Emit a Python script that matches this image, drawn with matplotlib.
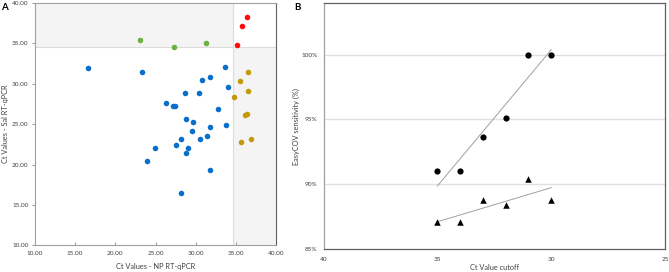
import numpy as np
import matplotlib
matplotlib.use("Agg")
import matplotlib.pyplot as plt
from matplotlib.patches import Rectangle

plt.rcParams['font.family'] = ['Lato', 'DejaVu Sans']

# Panel A data: Ct values (NP, Sal)
blue_np = [16.6, 23.3, 33.6, 30.8, 31.8, 34.0, 28.7, 30.4, 26.3, 27.2, 27.4, 32.8, 28.8,
           29.6, 29.5, 31.8, 33.7, 28.2, 30.5, 31.4, 24.9, 27.5, 29.0, 28.8, 24.0, 31.8, 28.2]
blue_sal = [31.9, 31.5, 32.1, 30.5, 30.8, 29.6, 28.9, 28.8, 27.6, 27.3, 27.3, 26.9, 25.6,
            25.3, 24.1, 24.7, 24.9, 23.2, 23.1, 23.5, 22.0, 22.4, 22.0, 21.4, 20.4, 19.3, 16.5]
gold_np = [36.5, 35.5, 36.5, 34.8, 36.1, 36.3, 35.6, 36.9]
gold_sal = [31.4, 30.4, 29.1, 28.3, 26.1, 26.2, 22.8, 23.1]
red_np = [36.3, 35.7, 35.1]
red_sal = [38.3, 37.2, 34.8]
green_np = [23.1, 27.3, 31.3]
green_sal = [35.4, 34.6, 35.1]
cutoff_np = 34.6
cutoff_sal = 34.5

# Panel B data: sensitivity vs Ct cutoff
cutoffs = [35, 34, 33, 32, 31, 30]
sens_circle = [91.0, 91.0, 93.6, 95.1, 100.0, 100.0]
sens_triangle = [87.05, 87.05, 88.8, 88.4, 90.4, 88.8]

fig = plt.figure(figsize=(6.69, 2.72), dpi=100)
W, H = 669, 272

def add_ax(l, t, r, b):
    return fig.add_axes([l / W, 1 - b / H, (r - l) / W, (b - t) / H])

tick_fs = 4.6
lab_fs = 5.3
txt = '#404040'

# ---- Panel A ----
axa = add_ax(34.7, 3, 276.3, 245.3)
axa.set_xlim(10, 40)
axa.set_ylim(10, 40)
shade = '#f4f4f4'
axa.add_patch(Rectangle((10, cutoff_sal), cutoff_np - 10, 40 - cutoff_sal,
                        facecolor=shade, edgecolor='none', zorder=0))
axa.add_patch(Rectangle((cutoff_np, 10), 40 - cutoff_np, cutoff_sal - 10,
                        facecolor=shade, edgecolor='none', zorder=0))
axa.axhline(cutoff_sal, color='#dcdcdc', lw=0.8, zorder=1)
axa.axvline(cutoff_np, color='#dcdcdc', lw=0.8, zorder=1)
ms = 16
axa.scatter(blue_np, blue_sal, s=ms, color='#0A6FCB', zorder=3, linewidths=0)
axa.scatter(gold_np, gold_sal, s=ms, color='#C39A08', zorder=3, linewidths=0)
axa.scatter(red_np, red_sal, s=ms, color='#FF0A0A', zorder=3, linewidths=0)
axa.scatter(green_np, green_sal, s=ms, color='#6DB043', zorder=3, linewidths=0)
ticks = np.arange(10, 41, 5)
axa.set_xticks(ticks)
axa.set_yticks(ticks)
axa.set_xticklabels([f'{v:.2f}' for v in ticks])
axa.set_yticklabels([f'{v:.2f}' for v in ticks])
axa.tick_params(labelsize=tick_fs, length=2, width=0.6, color='#888888', labelcolor=txt)
axa.tick_params(axis='x', direction='in', pad=4.2)
axa.tick_params(axis='y', pad=2.5)
for side in ['left', 'bottom', 'top']:
    axa.spines[side].set_color('#a0a0a0')
axa.spines['right'].set_color('#606060')
for s in axa.spines.values():
    s.set_linewidth(0.8)
axa.set_xlabel('Ct Values - NP RT-qPCR', fontsize=lab_fs, color=txt)
axa.set_ylabel('Ct Values - Sal RT-qPCR', fontsize=lab_fs, color=txt)
axa.xaxis.set_label_coords(0.5, -0.073)
axa.yaxis.set_label_coords(-0.106, 0.5)
fig.text(1 / W, 1 - 7 / H, 'A', fontsize=7, fontweight='bold', ha='left', va='center')

# ---- Panel B ----
axb = add_ax(323.7, 3.3, 665, 249)
axb.set_xlim(40, 25)
axb.set_ylim(85, 103.95)
axb.set_yticks([85, 90, 95, 100])
axb.set_yticklabels(['85%', '90%', '95%', '100%'])
axb.set_xticks([40, 35, 30, 25])
for y in [90, 95, 100]:
    axb.axhline(y, color='#e0e0e0', lw=1.0, zorder=0)
axb.scatter(cutoffs, sens_circle, s=20, color='black', marker='o', zorder=3, linewidths=0)
axb.scatter(cutoffs, sens_triangle, s=22, color='black', marker='^', zorder=3, linewidths=0)
xs = np.array([35, 30])
for series in (sens_circle, sens_triangle):
    k, c = np.polyfit(cutoffs, series, 1)
    axb.plot(xs, k * xs + c, color='#a0a0a0', lw=0.7, zorder=2)
axb.tick_params(labelsize=tick_fs, length=0, labelcolor=txt)
axb.tick_params(axis='x', pad=5.5)
axb.tick_params(axis='y', pad=4.3)
for side in ['top', 'bottom', 'right']:
    axb.spines[side].set_color('#606060')
axb.spines['left'].set_color('#a0a0a0')
for s in axb.spines.values():
    s.set_linewidth(0.9)
axb.set_xlabel('Ct Value cutoff', fontsize=lab_fs, color=txt)
axb.set_ylabel('EasyCOV sensitivity (%)', fontsize=lab_fs, color=txt)
axb.xaxis.set_label_coords(0.5, -0.063)
axb.yaxis.set_label_coords(-0.068, 0.5)
fig.text(294 / W, 1 - 7 / H, 'B', fontsize=7, fontweight='bold', ha='left', va='center')

fig.savefig('out.png', dpi=100)
